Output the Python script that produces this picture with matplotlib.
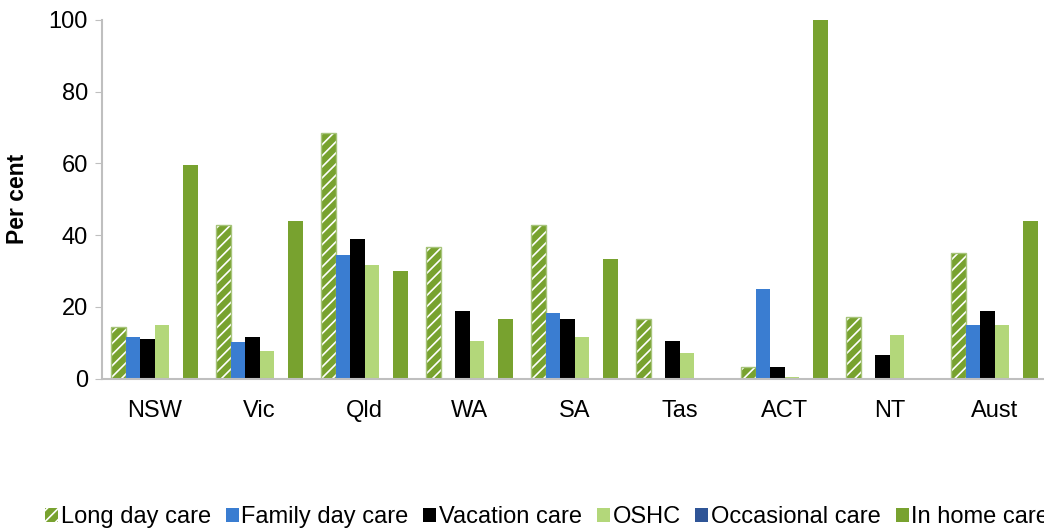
import matplotlib
matplotlib.use("Agg")
import matplotlib.pyplot as plt
import numpy as np

plt.rcParams['font.family'] = ['Liberation Sans', 'DejaVu Sans']
plt.rcParams['hatch.color'] = 'white'
plt.rcParams['hatch.linewidth'] = 1.2

categories = ["NSW", "Vic", "Qld", "WA", "SA", "Tas", "ACT", "NT", "Aust"]
series_names = ["Long day care", "Family day care", "Vacation care", "OSHC",
                "Occasional care", "In home care"]
long_day_care = [14.5, 42.8, 68.5, 36.7, 42.8, 16.7, 3.4, 17.3, 35.1]
family_day_care = [11.7, 10.1, 34.6, 0, 18.3, 0, 25.1, 0, 15.1]
vacation_care = [11.2, 11.7, 38.9, 18.9, 16.7, 10.6, 3.4, 6.7, 19.0]
oshc = [15.1, 7.8, 31.8, 10.6, 11.7, 7.3, 0.6, 12.3, 15.1]
occasional_care = [0, 0, 0, 0, 0, 0, 0, 0, 0]
in_home_care = [59.7, 43.9, 30.1, 16.7, 33.4, 0, 100.0, 0, 44.1]
yticks = [0, 20, 40, 60, 80, 100]

series = [long_day_care, family_day_care, vacation_care, oshc, occasional_care, in_home_care]
colors = ["#78A22F", "#3A7DD1", "#000000", "#B3D77A", "#2F5597", "#78A22F"]

W, H = 1044, 531
fig = plt.figure(figsize=(W / 100, H / 100), dpi=100)
ax_left = 102 / W
ax_right = 1047 / W
ax_bottom = (H - 378.7) / H
ax_height = (378.7 - 20) / H
ax = fig.add_axes([ax_left, ax_bottom, ax_right - ax_left, ax_height])

x = np.arange(len(categories))
n = len(series)
group = 0.82
bw = group / n
handles = []
for i, (vals, c) in enumerate(zip(series, colors)):
    pos = x - group / 2 + bw * (i + 0.5)
    if i == 0:
        b = ax.bar(pos, vals, bw, color=c, edgecolor='white', hatch='///',
                   linewidth=0, label=series_names[i])
        ax.bar(pos, vals, bw, fill=False, edgecolor='#A6C47A', linewidth=1.0)
    else:
        b = ax.bar(pos, vals, bw, color=c, linewidth=0, label=series_names[i])
    handles.append(b)

FS = 17
ax.set_xlim(-0.5, len(categories) - 0.5)
ax.set_ylim(0, 100)
ax.set_yticks(yticks)
ax.set_xticks(x)
ax.set_xticklabels(categories, fontsize=FS)
ax.tick_params(axis='y', labelsize=FS, length=5, color='#BFBFBF', pad=5)
ax.tick_params(axis='x', length=0, pad=15)
for s in ['top', 'right']:
    ax.spines[s].set_visible(False)
ax.spines['left'].set_color('#BFBFBF')
ax.spines['bottom'].set_color('#BFBFBF')
ax.spines['left'].set_linewidth(1.5)
ax.spines['bottom'].set_linewidth(1.5)
ax.set_ylabel("Per cent", fontsize=16.5, fontweight='bold')
ax.yaxis.set_label_coords(-73 / (1047 - 102), 0.5)

fig.legend(handles=handles, labels=series_names, loc='center left',
           bbox_to_anchor=(45 / W, (H - 517) / H), ncol=6, frameon=False,
           fontsize=FS, handlelength=0.55, handleheight=0.55,
           handletextpad=0.12, columnspacing=0.62, borderaxespad=0, borderpad=0)

fig.savefig("out.png", dpi=100)
